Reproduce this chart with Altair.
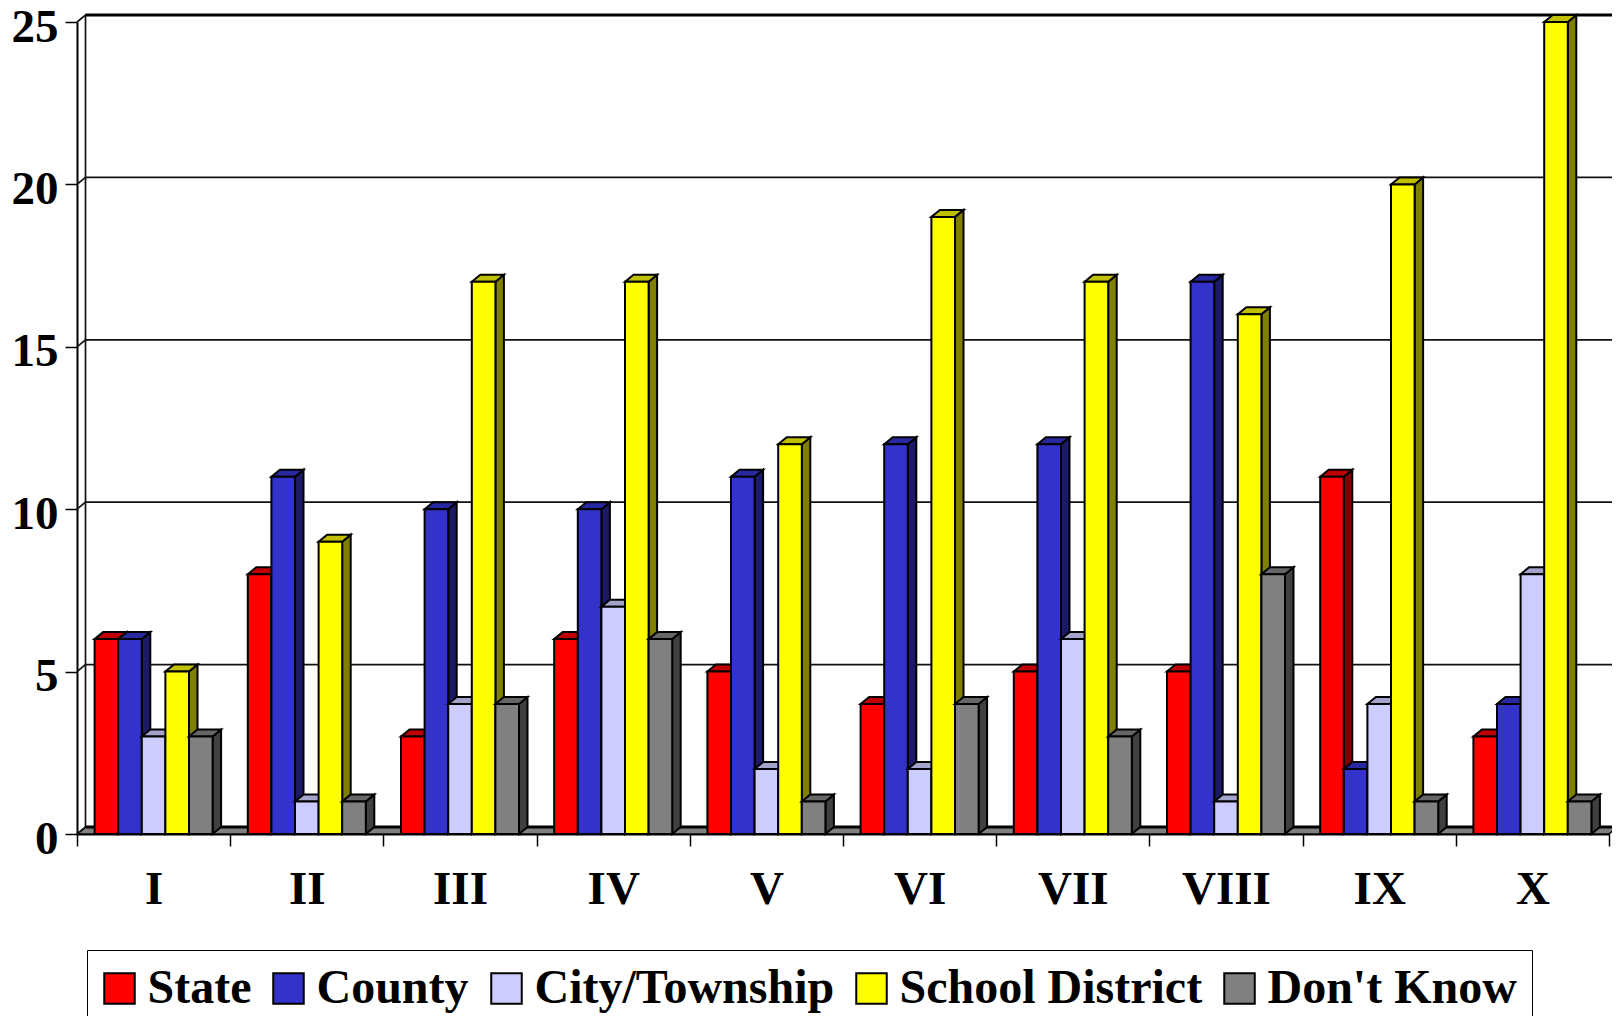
import altair as alt
import pandas as pd

categories = ["I", "II", "III", "IV", "V", "VI", "VII", "VIII", "IX", "X"]
series = ["State", "County", "City/Township", "School District", "Don't Know"]
state = [6, 8, 3, 6, 5, 4, 5, 5, 11, 3]
county = [6, 11, 10, 10, 11, 12, 12, 17, 2, 4]
city = [3, 1, 4, 7, 2, 2, 6, 1, 4, 8]
school = [5, 9, 17, 17, 12, 19, 17, 16, 20, 25]
dont_know = [3, 1, 4, 6, 1, 4, 3, 8, 1, 1]
y_ticks = [0, 5, 10, 15, 20, 25]
front_colors = ["#ff0000", "#3333cc", "#ccccff", "#ffff00", "#808080"]
top_colors = ["#c00000", "#2828a0", "#a3a3cc", "#c0c000", "#666666"]
side_colors = ["#800000", "#1a1a66", "#666680", "#808000", "#404040"]

W, H = 1532, 812
DX = 8.5 / (W / 10)      # 3-D depth, in x-axis units
DY = 7.0 / (H / 25)      # 3-D depth, in y-axis units
BAR_W = 23.6 / (W / 10)
GROUP_PAD = (1 - 5 * BAR_W) / 2

columns = [state, county, city, school, dont_know]
rows = []
face_no = 0
for c in range(len(categories)):
    for s, name in enumerate(series):
        v = columns[s][c]
        x0 = c + GROUP_PAD + s * BAR_W
        x1 = x0 + BAR_W
        faces = [
            (name + " side", [(x1, v, 0), (x1 + DX, v + DY, DY)]),
            (name + " top", [(x0, v, v), (x0 + DX, v + DY, v), (x1, v + DY, v), (x1 + DX, v + DY, v + DY)]),
            (name, [(x0, v, 0), (x1, v, 0)]),
        ]
        for key, pts in faces:
            face_no += 1
            for px, py, py2 in pts:
                rows.append({"face": face_no, "key": key, "x": px, "y": py, "y2": py2,
                             "category": categories[c], "series": name, "value": v})
bars_df = pd.DataFrame(rows)

domain = series + [n + " top" for n in series] + [n + " side" for n in series]
colour_range = front_colors + top_colors + side_colors

x_scale = alt.Scale(domain=[0, 10], nice=False, zero=False)
y_scale = alt.Scale(domain=[0, 25], nice=False, zero=False)
FONT = "Liberation Serif"
label_expr = "[" + ",".join("'%s'" % c for c in categories) + ",''][datum.value]"

x_axis = alt.Axis(values=list(range(11)), title=None, grid=False, labelExpr=label_expr,
                  labelOffset=W / 20, labelOverlap=False, labelFlush=False, labelBound=False,
                  labelFont=FONT, labelFontWeight="bold", labelFontSize=47, labelColor="black",
                  labelPadding=20, tickSize=12, tickColor="black", tickWidth=1.5,
                  domainColor="black", domainWidth=2)
y_axis = alt.Axis(values=y_ticks, title=None, grid=False, labelOverlap=False,
                  labelFlush=False, labelBound=False, labelOffset=5,
                  labelFont=FONT, labelFontWeight="bold", labelFontSize=47, labelColor="black",
                  labelPadding=7, tickSize=12, tickColor="black", tickWidth=1.5,
                  domainColor="black", domainWidth=2)

# floor
floor_df = pd.DataFrame({"x": [0, DX, 10, 10 + DX], "y": [0, DY, DY, DY], "y2": [0, 0, 0, DY]})
floor = alt.Chart(floor_df).mark_area(fill="#808080", stroke="black", strokeWidth=1.5,
                                      orient="vertical").encode(
    x=alt.X("x:Q", scale=x_scale, axis=x_axis),
    y=alt.Y("y:Q", scale=y_scale, axis=y_axis),
    y2="y2:Q",
)

# back wall: diagonal tick connector plus horizontal gridline
grid_rows = []
for k in y_ticks:
    for px, py in [(0, k), (DX, k + DY), (10 + DX, k + DY)]:
        grid_rows.append({"k": k, "x": px, "y": py})
grid_df = pd.DataFrame(grid_rows)
grid = alt.Chart(grid_df).mark_line(color="#111111", strokeWidth=1.7).encode(
    x=alt.X("x:Q", scale=x_scale), y=alt.Y("y:Q", scale=y_scale), detail="k:N",
)

# thick edges: top of the wall and back of the floor
edges_df = pd.DataFrame({"k": [25, 25, 0, 0],
                         "x": [DX, 10 + DX, DX, 10 + DX],
                         "y": [25 + DY, 25 + DY, DY, DY]})
edges = alt.Chart(edges_df).mark_line(color="black", strokeWidth=2.8).encode(
    x=alt.X("x:Q", scale=x_scale), y=alt.Y("y:Q", scale=y_scale), detail="k:N",
)

# back-left and right wall verticals
walls_df = pd.DataFrame({"k": ["l", "l", "r", "r"],
                         "x": [DX, DX, 10 + DX, 10 + DX],
                         "y": [DY, 25 + DY, DY, 25 + DY]})
walls = alt.Chart(walls_df).mark_line(strokeWidth=1.7).encode(
    x=alt.X("x:Q", scale=x_scale), y=alt.Y("y:Q", scale=y_scale), detail="k:N",
    color=alt.Color("k:N", scale=alt.Scale(domain=["l", "r"], range=["#111111", "#666666"]), legend=None),
)

legend = alt.Legend(
    values=series, title=None, orient="none", legendX=10, legendY=928, direction="horizontal",
    columns=5, columnPadding=17, symbolType="square", symbolSize=930, symbolStrokeColor="black",
    symbolStrokeWidth=2, symbolOpacity=1, symbolOffset=-6, labelFont=FONT, labelFontWeight="bold",
    labelFontSize=48, labelColor="black", labelOffset=4, labelLimit=500, padding=14.5,
    strokeColor="black", fillColor="white",
)
bars = alt.Chart(bars_df).mark_area(stroke="black", strokeWidth=2, opacity=1, orient="vertical").encode(
    x=alt.X("x:Q", scale=x_scale),
    y=alt.Y("y:Q", scale=y_scale),
    y2="y2:Q",
    detail="face:N",
    color=alt.Color("key:N", scale=alt.Scale(domain=domain, range=colour_range), legend=legend),
)

chart = alt.layer(floor, grid, walls, edges, bars).resolve_scale(color="independent").properties(
    width=W, height=H,
    padding={"left": 69, "top": 14, "right": 3, "bottom": 182},
    autosize=alt.AutoSizeParams(type="none"),
    background="white",
).configure_view(stroke=None)

chart.save("out.html", embed_options={"renderer": "svg", "actions": False})
